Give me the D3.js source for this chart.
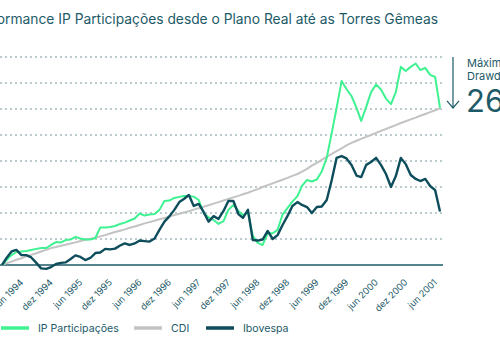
<!DOCTYPE html>
<html>
<head>
<meta charset="utf-8">
<script src="https://cdn.jsdelivr.net/npm/d3@7"></script>
<style>
    body { margin: 0; background: #fff; }
    svg { display: block; font-family: "Inter", "Lato", sans-serif; }
</style>
</head>
<body>
<div id="chart"></div>
<script>

// monthly points, fev 1994 .. jul 2001, cumulative return in %
const months = d3.timeMonth.range(new Date(1994, 1, 1), new Date(2001, 7, 1));

const ipParticipacoes = [0, 19, 38, 50, 52, 54, 58, 62, 65, 65,
    77, 88, 87, 96, 98, 108, 102, 98, 98, 104,
    144, 144, 146, 150, 158, 163, 171, 179, 198, 190,
    194, 196, 212, 246, 248, 258, 262, 265, 265, 263,
    250, 200, 183, 173, 158, 169, 212, 231, 208, 192,
    202, 112, 85, 77, 122, 122, 135, 194, 219, 244,
    265, 304, 327, 321, 329, 360, 412, 508, 604, 708,
    677, 650, 604, 554, 608, 665, 694, 675, 640, 619,
    665, 762, 746, 762, 775, 750, 758, 731, 723, 604];

const cdi = [0, 7, 13, 20, 26, 33, 39, 45, 52, 58,
    65, 69, 74, 78, 83, 87, 92, 97, 101, 105,
    110, 115, 121, 127, 132, 137, 143, 148, 154, 160,
    165, 170, 176, 181, 186, 192, 197, 202, 207, 213,
    218, 224, 230, 236, 242, 248, 254, 260, 266, 272,
    278, 285, 292, 300, 307, 314, 321, 328, 335, 343,
    350, 359, 370, 382, 393, 404, 416, 427, 438, 449,
    460, 470, 478, 485, 493, 500, 508, 516, 523, 531,
    538, 546, 553, 560, 567, 574, 581, 588, 595, 603];

const ibovespa = [0, 27, 52, 58, 38, 38, 29, 8, -13, -15,
    -8, 4, 8, 10, 23, 37, 31, 19, 27, 46,
    48, 62, 60, 63, 75, 83, 77, 83, 94, 92,
    90, 102, 135, 167, 187, 212, 242, 254, 269, 227,
    235, 204, 167, 188, 177, 208, 246, 246, 196, 181,
    212, 96, 94, 98, 131, 100, 115, 154, 188, 227,
    242, 231, 223, 200, 223, 225, 250, 327, 412, 419,
    410, 385, 344, 338, 385, 396, 412, 385, 350, 300,
    342, 412, 388, 346, 331, 323, 331, 304, 288, 206];

const tickDates = d3.timeMonth.range(new Date(1994, 5, 1), new Date(2001, 6, 1), 6);
const tickLabels = ["jun 1994", "dez 1994", "jun 1995", "dez 1995", "jun 1996", "dez 1996",
    "jun 1997", "dez 1997", "jun 1998", "dez 1998", "jun 1999", "dez 1999",
    "jun 2000", "dez 2000", "jun 2001"];
const gridValues = [100, 200, 300, 400, 500, 600, 700, 800];

const title = "Performance IP Participações desde o Plano Real até as Torres Gêmeas";
const drawdownText = ["Máximo", "Drawdown", "26%"];

const series = [
    {name: "IP Participações", values: ipParticipacoes, color: "#3ff291", width: 2},
    {name: "CDI", values: cdi, color: "#c3c3c3", width: 2},
    {name: "Ibovespa", values: ibovespa, color: "#0e4d5b", width: 2.4}
];

const teal = "#1d5a68";

let width = 500, height = 350;

let svg = d3.select("#chart").append("svg")
    .attr("width", width)
    .attr("height", height);

// Scales
let x = d3.scaleTime()
    .domain([months[0], months[months.length - 1]])
    .range([2, 440]);
let y = d3.scaleLinear()
    .domain([0, 800])
    .range([265, 57]);

// Title (cut at the left edge, as in the original)
svg.append("text")
    .text(title)
    .attr("x", 438)
    .attr("y", 24)
    .attr("text-anchor", "end")
    .attr("font-size", 13.8)
    .attr("fill", teal);

// Grid
svg.append("g")
    .selectAll("line")
    .data(gridValues)
    .join("line")
    .attr("x1", 0)
    .attr("x2", 443)
    .attr("y1", d => y(d))
    .attr("y2", d => y(d))
    .attr("stroke", "#76989f")
    .attr("stroke-width", 1)
    .attr("stroke-dasharray", "2,3");

// Baseline
svg.append("line")
    .attr("x1", 0)
    .attr("x2", 443)
    .attr("y1", y(0))
    .attr("y2", y(0))
    .attr("stroke", teal)
    .attr("stroke-width", 1.5);

// X axis labels
let xAxis = d3.axisBottom(x)
    .tickValues(tickDates)
    .tickFormat((d, i) => tickLabels[i])
    .tickSize(0);

let axisG = svg.append("g")
    .attr("transform", "translate(0," + y(0) + ")")
    .call(xAxis);
axisG.select(".domain").remove();
axisG.selectAll("text")
    .attr("fill", teal)
    .attr("font-size", 9.2)
    .attr("font-family", "Inter, Lato, sans-serif")
    .attr("text-anchor", "end")
    .attr("dy", 0)
    .attr("y", 0)
    .attr("transform", "translate(2,18) rotate(-45)");

// Lines
let line = d3.line()
    .x((d, i) => x(months[i]))
    .y(d => y(d))
    .curve(d3.curveLinear);

[series[1], series[0], series[2]].forEach(s => {
    svg.append("path")
        .datum(s.values)
        .attr("fill", "none")
        .attr("stroke", s.color)
        .attr("stroke-width", s.width)
        .attr("stroke-linejoin", "round")
        .attr("d", line);
});

// Drawdown annotation
let ax = 453;
let yTop = y(800), yBottom = y(ipParticipacoes[ipParticipacoes.length - 1]);
svg.append("line")
    .attr("x1", ax).attr("x2", ax)
    .attr("y1", yTop).attr("y2", yBottom)
    .attr("stroke", teal)
    .attr("stroke-width", 1.2);
svg.append("path")
    .attr("d", `M${ax - 6},${yBottom - 7} L${ax},${yBottom} L${ax + 6},${yBottom - 7}`)
    .attr("fill", "none")
    .attr("stroke", teal)
    .attr("stroke-width", 1.2);
svg.append("text")
    .text(drawdownText[0])
    .attr("x", 467).attr("y", 67)
    .attr("font-size", 11)
    .attr("fill", teal);
svg.append("text")
    .text(drawdownText[1])
    .attr("x", 467).attr("y", 80)
    .attr("font-size", 11)
    .attr("fill", teal);
svg.append("text")
    .text(drawdownText[2])
    .attr("x", 466).attr("y", 112)
    .attr("font-size", 31)
    .attr("fill", teal);

// Legend
let legendX = [1, 134, 206];
let legend = svg.append("g")
    .attr("transform", "translate(0,328)");
series.forEach((s, i) => {
    legend.append("line")
        .attr("x1", legendX[i]).attr("x2", legendX[i] + 28)
        .attr("y1", 0).attr("y2", 0)
        .attr("stroke", s.color)
        .attr("stroke-width", 3.5);
    legend.append("text")
        .text(s.name)
        .attr("x", legendX[i] + 37)
        .attr("y", 4)
        .attr("font-size", 10.6)
        .attr("fill", teal);
});

</script>
</body>
</html>
